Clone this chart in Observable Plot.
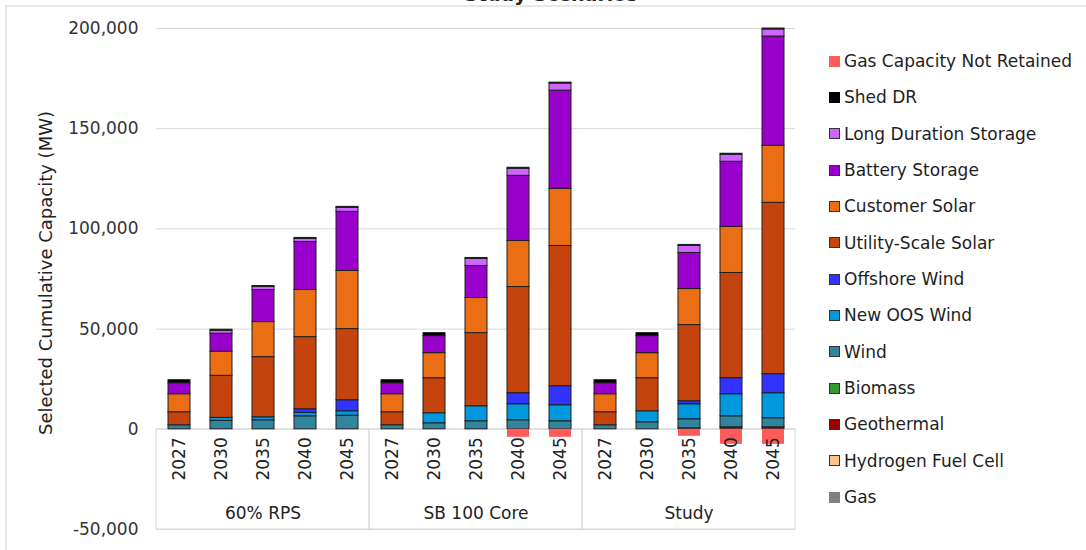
<!DOCTYPE html>
<html>
<head>
<meta charset="utf-8">
<script src="https://cdn.jsdelivr.net/npm/d3@7"></script>
<script src="https://cdn.jsdelivr.net/npm/@observablehq/plot@0.6"></script>
<style>
  body { margin: 0; background: #fff; font-family: "DejaVu Sans", sans-serif; }
  #wrap { position: relative; width: 1086px; height: 550px; overflow: hidden; background: #fff; }
  #frame { position: absolute; left: 5px; top: 5px; width: 1200px; height: 700px; border-top: 2px solid #e8e8e8; border-left: 2px solid #e8e8e8; pointer-events: none; }
  #title { position: absolute; top: -15px; left: 448px; width: 206px; text-align: center; font-weight: bold; font-size: 19px; line-height: 19px; color: #222; white-space: nowrap; }
  #chart { position: absolute; left: 0; top: 0; }
  #legend { position: absolute; left: 829px; top: 43px; }
  .item { display: flex; align-items: center; height: 36.33px; font-size: 17px; color: #1e1e1e; white-space: nowrap; }
  .sw { width: 11px; height: 11px; margin-right: 4px; box-sizing: border-box; border: 1.5px solid #333; flex: none; }
</style>
</head>
<body>
<div id="wrap">
  <div id="frame"></div>
  <div id="title">Study Scenarios</div>
  <div id="chart"></div>
  <div id="legend"></div>
</div>
<script>
// ---- data ----
const scenarios = ["60% RPS", "SB 100 Core", "Study"];
const years = ["2027", "2030", "2035", "2040", "2045"];
const yDomain = [-50000, 200000];
const yTicks = [-50000, 0, 50000, 100000, 150000, 200000];
const yLabel = "Selected Cumulative Capacity (MW)";

// stacking order, bottom to top
const types = ["Gas", "Hydrogen Fuel Cell", "Geothermal", "Biomass", "Wind", "New OOS Wind",
  "Offshore Wind", "Utility-Scale Solar", "Customer Solar", "Battery Storage",
  "Long Duration Storage", "Shed DR", "Gas Capacity Not Retained"];
const typeColors = ["#808080", "#FFC08A", "#990000", "#339933", "#31859C", "#0099DD",
  "#3333FF", "#C5440E", "#EB6E14", "#9900CC", "#CC66FF", "#000000", "#FF5B5B"];
// legend order (top to bottom)
const legendOrder = ["Gas Capacity Not Retained", "Shed DR", "Long Duration Storage", "Battery Storage",
  "Customer Solar", "Utility-Scale Solar", "Offshore Wind", "New OOS Wind", "Wind", "Biomass",
  "Geothermal", "Hydrogen Fuel Cell", "Gas"];
const noBorder = ["Gas Capacity Not Retained", "Shed DR", "Gas"];

// values in MW, ordered 60% RPS (2027..2045), SB 100 Core (2027..2045), Study (2027..2045)
const gas        = [0,0,0,0,0, 0,0,0,0,0, 0,0,0,0,0];
const hydrogen   = [0,0,0,0,0, 0,0,0,0,0, 0,0,0,0,0];
const geothermal = [0,0,0,0,0, 0,0,0,0,0, 0,0,500,1000,1000];
const biomass    = [0,0,0,0,0, 0,0,0,0,0, 0,0,0,0,0];
const wind       = [2000,4200,4500,6500,6800, 2000,3000,4000,4500,4000, 2000,3500,4500,5500,4500];
const oosWind    = [0,1500,1500,1700,2200, 0,5000,7500,8000,8000, 0,5500,7500,11000,12500];
const offshore   = [0,0,0,1800,5500, 0,0,0,5500,9500, 0,0,1500,8000,9500];
const utilSolar  = [6500,21000,30000,36000,35500, 6500,17500,36500,53000,70000, 6500,16500,38000,52500,85500];
const custSolar  = [9000,12000,17500,23500,29000, 9000,12500,17500,23000,28500, 9000,12500,18000,23000,28500];
const battery    = [5500,9000,16000,24000,29500, 5500,8500,16000,32500,49000, 5500,8500,18000,32500,54500];
const lds        = [0,1500,1500,1500,2000, 0,0,3500,3500,3500, 0,0,3500,3500,3500];
const shedDR     = [1500,500,500,500,500, 1500,1500,500,500,500, 1500,1500,500,500,500];
const gasNotRet  = [0,0,0,0,0, 0,0,0,-4000,-4000, 0,0,-3500,-7500,-7500];

const series = {
  "Gas": gas, "Hydrogen Fuel Cell": hydrogen, "Geothermal": geothermal, "Biomass": biomass,
  "Wind": wind, "New OOS Wind": oosWind, "Offshore Wind": offshore,
  "Utility-Scale Solar": utilSolar, "Customer Solar": custSolar, "Battery Storage": battery,
  "Long Duration Storage": lds, "Shed DR": shedDR, "Gas Capacity Not Retained": gasNotRet
};

// ---- build table ----
const rows = [];
types.forEach(t => {
  series[t].forEach((v, i) => {
    rows.push({ type: t, scenario: scenarios[Math.floor(i / years.length)], year: years[i % years.length], value: v });
  });
});
const posRows = rows.filter(d => d.value > 0);
const negRows = rows.filter(d => d.value < 0);
const labelRows = scenarios.flatMap(s => years.map(y => ({ scenario: s, year: y })));

const loc = d3.formatLocale({ decimal: ".", thousands: ",", grouping: [3], currency: ["$", ""], minus: "-" });
const fmt = loc.format(",");

const chart = Plot.plot({
  width: 1086,
  height: 550,
  marginLeft: 155,
  marginRight: 291,
  marginTop: 28,
  marginBottom: 21,
  style: { fontFamily: "DejaVu Sans, sans-serif", fontSize: "17px", color: "#333", background: "transparent" },
  fx: { domain: scenarios, padding: 0, axis: null },
  x: { domain: years, paddingInner: 0.485, paddingOuter: 0.2425, axis: null },
  y: { domain: yDomain, ticks: yTicks },
  color: { domain: types, range: typeColors },
  marks: [
    Plot.gridY(yTicks, { stroke: "#d9d9d9", strokeOpacity: 1 }),
    Plot.rect(scenarios, { fx: d => d, y1: yDomain[0], y2: 0, fill: "none", stroke: "#d9d9d9", strokeWidth: 1 }),
    Plot.axisY(yTicks, { tickSize: 0, tickPadding: 18, tickFormat: fmt, fontSize: 17, fill: "#333", label: null }),
    Plot.barY(posRows, { fx: "scenario", x: "year", y: "value", fill: "type", order: types, stroke: "#1e1e1e", strokeWidth: 1 }),
    Plot.barY(negRows, { fx: "scenario", x: "year", y: "value", fill: "type" }),
    Plot.text(labelRows, { fx: "scenario", x: "year", y: 0, text: "year", rotate: -90, textAnchor: "end", lineAnchor: "middle", dy: 8, fontSize: 17, fill: "#222" }),
    Plot.text(scenarios, { fx: d => d, y: yDomain[0], text: d => d, dy: -16, fontSize: 17, fill: "#222" }),
    Plot.text([scenarios[0]], { fx: d => d, frameAnchor: "left", dx: -110, dy: -6, rotate: -90, textAnchor: "middle", lineAnchor: "middle", text: () => yLabel, fontSize: 18, fill: "#222" })
  ]
});
document.getElementById("chart").appendChild(chart);

// ---- legend ----
const legend = document.getElementById("legend");
legendOrder.forEach(t => {
  const item = document.createElement("div");
  item.className = "item";
  const sw = document.createElement("span");
  sw.className = "sw";
  const c = typeColors[types.indexOf(t)];
  sw.style.background = c;
  if (noBorder.includes(t)) sw.style.border = "none";
  const lab = document.createElement("span");
  lab.textContent = t;
  item.appendChild(sw);
  item.appendChild(lab);
  legend.appendChild(item);
});
</script>
</body>
</html>
